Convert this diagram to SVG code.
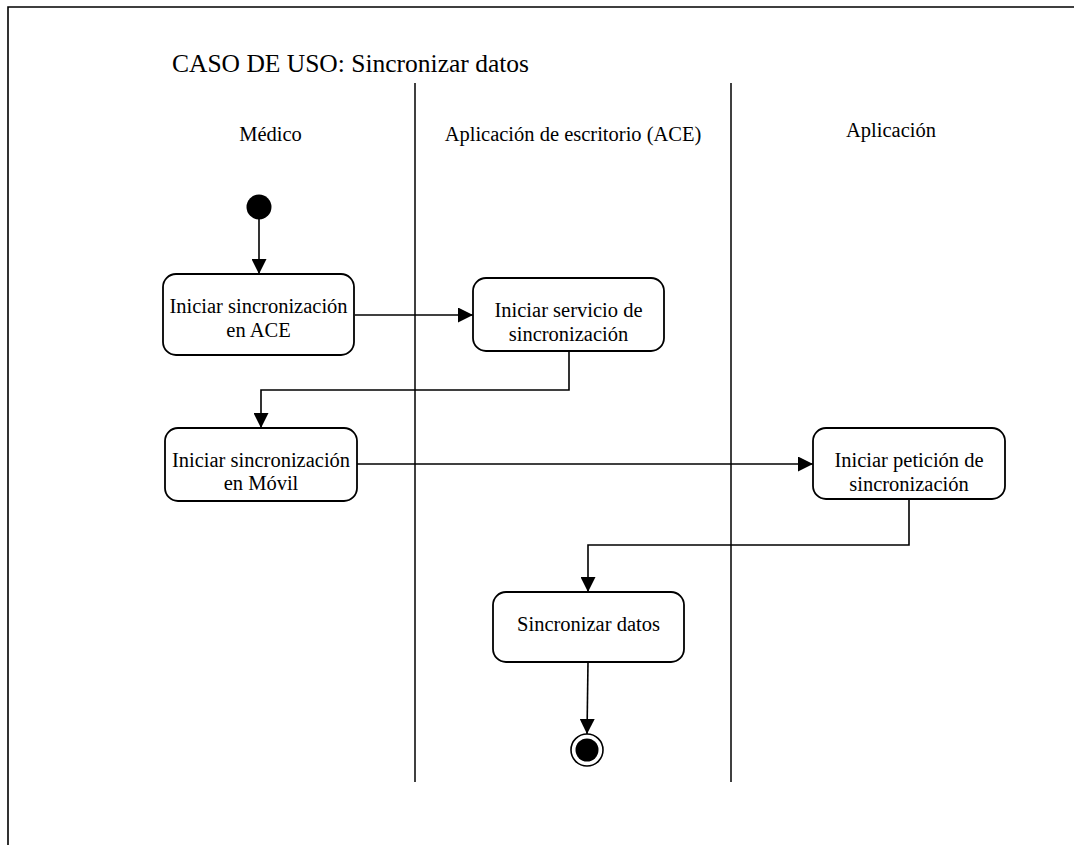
<svg xmlns="http://www.w3.org/2000/svg" width="1074" height="845" viewBox="0 0 1074 845">
  <style>
    .frame { fill: none; stroke: #000; stroke-width: 1.6; }
    .lane { stroke: #000; stroke-width: 1.5; }
    .act { fill: #fff; stroke: #000; stroke-width: 1.8; }
    .flow { fill: none; stroke: #000; stroke-width: 1.6; }
    text { font-family: 'Liberation Serif', 'Times New Roman', Times, 'DejaVu Serif', serif; fill: #000; }
    .txt { font-size: 20.5px; text-anchor: middle; }
    .title { font-size: 25.5px; }
  </style>
  <defs>
    <marker id="arrow" viewBox="0 0 10 10" refX="10" refY="5" markerWidth="15" markerHeight="15" markerUnits="userSpaceOnUse" orient="auto">
      <path d="M0,0 L10,5 L0,10 Z" fill="#000"/>
    </marker>
  </defs>

  <rect x="0" y="0" width="1074" height="845" fill="#fff"/>
  <!-- outer frame (open to the right and bottom) -->
  <path class="frame" d="M8,845 L8,7 L1074,7"/>

  <text class="title" x="172" y="72">CASO DE USO: Sincronizar datos</text>

  <!-- swimlanes -->
  <g id="lanes">
    <line class="lane" x1="415" y1="83" x2="415" y2="782"/>
    <line class="lane" x1="731" y1="83" x2="731" y2="782"/>
    <text class="txt" x="270.5" y="141">Médico</text>
    <text class="txt" x="573" y="141">Aplicación de escritorio (ACE)</text>
    <text class="txt" x="891" y="137">Aplicación</text>
  </g>

  <!-- connectors -->
  <g id="connectors">
    <line class="flow" x1="259" y1="219" x2="259" y2="274" marker-end="url(#arrow)"/>
    <line class="flow" x1="355" y1="315" x2="473" y2="315" marker-end="url(#arrow)"/>
    <polyline class="flow" points="569,351 569,390 261,390 261,428" marker-end="url(#arrow)"/>
    <line class="flow" x1="357" y1="464" x2="813" y2="464" marker-end="url(#arrow)"/>
    <polyline class="flow" points="909,499 909,545 588,545 588,592" marker-end="url(#arrow)"/>
    <line class="flow" x1="588" y1="662" x2="587" y2="734" marker-end="url(#arrow)"/>
  </g>

  <g id="start">
    <circle cx="259" cy="207" r="12.5" fill="#000"/>
  </g>

  <g id="iniciar-sync-ace">
    <rect class="act" x="163" y="274" width="191" height="81" rx="13"/>
    <text class="txt" x="258.5" y="313">Iniciar sincronización</text>
    <text class="txt" x="258.5" y="337">en ACE</text>
  </g>

  <g id="iniciar-servicio">
    <rect class="act" x="473" y="278" width="191" height="73" rx="13"/>
    <text class="txt" x="568.5" y="317">Iniciar servicio de</text>
    <text class="txt" x="568.5" y="341">sincronización</text>
  </g>

  <g id="iniciar-sync-movil">
    <rect class="act" x="165" y="428" width="192" height="73" rx="13"/>
    <text class="txt" x="261" y="467">Iniciar sincronización</text>
    <text class="txt" x="261" y="490">en Móvil</text>
  </g>

  <g id="iniciar-peticion">
    <rect class="act" x="813" y="428" width="192" height="71" rx="13"/>
    <text class="txt" x="909" y="467">Iniciar petición de</text>
    <text class="txt" x="909" y="491">sincronización</text>
  </g>

  <g id="sincronizar-datos">
    <rect class="act" x="493" y="592" width="191" height="70" rx="13"/>
    <text class="txt" x="588.5" y="631">Sincronizar datos</text>
  </g>

  <g id="end">
    <circle cx="587" cy="750" r="16" fill="#fff" stroke="#000" stroke-width="1.6"/>
    <circle cx="587" cy="750" r="11.5" fill="#000"/>
  </g>
</svg>
